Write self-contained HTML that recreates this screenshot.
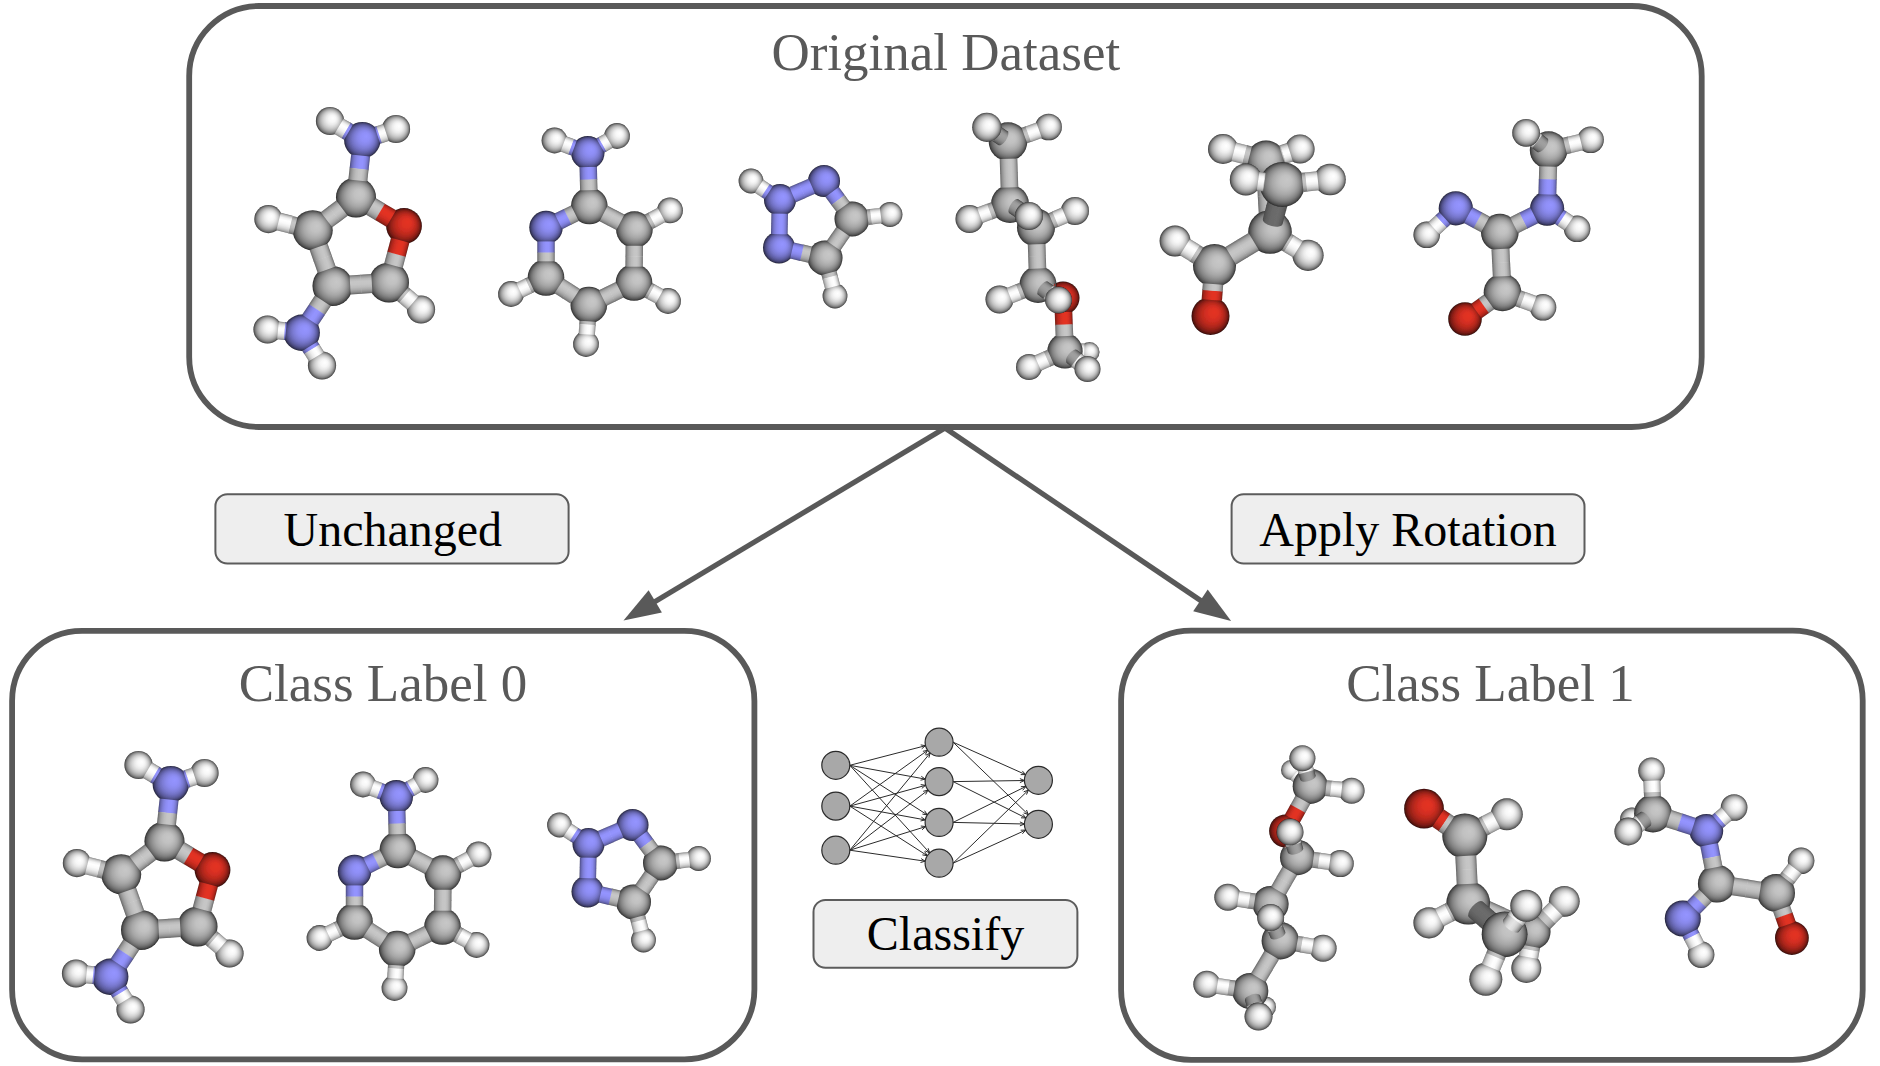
<!DOCTYPE html>
<html><head><meta charset="utf-8"><title>Rotation classification dataset</title>
<style>html,body{margin:0;padding:0;background:#fff;overflow:hidden}svg{display:block}text{font-family:"Liberation Serif","Times New Roman",serif}</style></head><body>
<svg width="1880" height="1066" viewBox="0 0 1880 1066">
<defs><radialGradient id="gH" cx="0.5" cy="0.5" r="0.5" fx="0.61" fy="0.39"><stop offset="0" stop-color="#ffffff"/><stop offset="0.25" stop-color="#f7f7f7"/><stop offset="0.4" stop-color="#eaeaea"/><stop offset="0.55" stop-color="#d5d5d5"/><stop offset="0.65" stop-color="#c3c3c3"/><stop offset="0.75" stop-color="#ababab"/><stop offset="0.82" stop-color="#969696"/><stop offset="0.88" stop-color="#7f7f7f"/><stop offset="0.93" stop-color="#676767"/><stop offset="0.965" stop-color="#515151"/><stop offset="0.985" stop-color="#3f3f3f"/><stop offset="1.0" stop-color="#212121"/></radialGradient>
<radialGradient id="gC" cx="0.5" cy="0.5" r="0.5" fx="0.61" fy="0.39"><stop offset="0" stop-color="#c7c7c7"/><stop offset="0.25" stop-color="#c1c1c1"/><stop offset="0.4" stop-color="#b6b6b6"/><stop offset="0.55" stop-color="#a7a7a7"/><stop offset="0.65" stop-color="#989898"/><stop offset="0.75" stop-color="#868686"/><stop offset="0.82" stop-color="#757575"/><stop offset="0.88" stop-color="#636363"/><stop offset="0.93" stop-color="#515151"/><stop offset="0.965" stop-color="#3f3f3f"/><stop offset="0.985" stop-color="#313131"/><stop offset="1.0" stop-color="#1a1a1a"/></radialGradient>
<radialGradient id="gN" cx="0.5" cy="0.5" r="0.5" fx="0.61" fy="0.39"><stop offset="0" stop-color="#9494ff"/><stop offset="0.25" stop-color="#8f8ff7"/><stop offset="0.4" stop-color="#8888ea"/><stop offset="0.55" stop-color="#7c7cd5"/><stop offset="0.65" stop-color="#7171c3"/><stop offset="0.75" stop-color="#6363ab"/><stop offset="0.82" stop-color="#575796"/><stop offset="0.88" stop-color="#4a4a7f"/><stop offset="0.93" stop-color="#3c3c67"/><stop offset="0.965" stop-color="#2f2f51"/><stop offset="0.985" stop-color="#24243f"/><stop offset="1.0" stop-color="#131321"/></radialGradient>
<radialGradient id="gO" cx="0.5" cy="0.5" r="0.5" fx="0.61" fy="0.39"><stop offset="0" stop-color="#e43224"/><stop offset="0.25" stop-color="#dd3023"/><stop offset="0.4" stop-color="#d12e21"/><stop offset="0.55" stop-color="#bf2a1e"/><stop offset="0.65" stop-color="#ae261c"/><stop offset="0.75" stop-color="#992218"/><stop offset="0.82" stop-color="#861d15"/><stop offset="0.88" stop-color="#721912"/><stop offset="0.93" stop-color="#5c140f"/><stop offset="0.965" stop-color="#48100b"/><stop offset="0.985" stop-color="#380c09"/><stop offset="1.0" stop-color="#1e0605"/></radialGradient>
<linearGradient id="bC_m1" x1="0" y1="0" x2="0" y2="1"><stop offset="0.000" stop-color="#545454"/><stop offset="0.020" stop-color="#707070"/><stop offset="0.060" stop-color="#878787"/><stop offset="0.125" stop-color="#9f9f9f"/><stop offset="0.225" stop-color="#b5b5b5"/><stop offset="0.350" stop-color="#c4c4c4"/><stop offset="0.500" stop-color="#c6c6c6"/><stop offset="0.650" stop-color="#bebebe"/><stop offset="0.775" stop-color="#aeaeae"/><stop offset="0.875" stop-color="#989898"/><stop offset="0.940" stop-color="#828282"/><stop offset="0.980" stop-color="#6d6d6d"/><stop offset="1.000" stop-color="#545454"/></linearGradient>
<linearGradient id="bC_m2" x1="0" y1="0" x2="0" y2="1"><stop offset="0.000" stop-color="#545454"/><stop offset="0.020" stop-color="#727272"/><stop offset="0.060" stop-color="#8b8b8b"/><stop offset="0.125" stop-color="#a3a3a3"/><stop offset="0.225" stop-color="#bababa"/><stop offset="0.350" stop-color="#c6c6c6"/><stop offset="0.500" stop-color="#c5c5c5"/><stop offset="0.650" stop-color="#bbbbbb"/><stop offset="0.775" stop-color="#aaaaaa"/><stop offset="0.875" stop-color="#959595"/><stop offset="0.940" stop-color="#808080"/><stop offset="0.980" stop-color="#6c6c6c"/><stop offset="1.000" stop-color="#545454"/></linearGradient>
<linearGradient id="bC_m3" x1="0" y1="0" x2="0" y2="1"><stop offset="0.000" stop-color="#545454"/><stop offset="0.020" stop-color="#747474"/><stop offset="0.060" stop-color="#8f8f8f"/><stop offset="0.125" stop-color="#a9a9a9"/><stop offset="0.225" stop-color="#bebebe"/><stop offset="0.350" stop-color="#c7c7c7"/><stop offset="0.500" stop-color="#c3c3c3"/><stop offset="0.650" stop-color="#b8b8b8"/><stop offset="0.775" stop-color="#a7a7a7"/><stop offset="0.875" stop-color="#929292"/><stop offset="0.940" stop-color="#7e7e7e"/><stop offset="0.980" stop-color="#6b6b6b"/><stop offset="1.000" stop-color="#545454"/></linearGradient>
<linearGradient id="bC_p0" x1="0" y1="0" x2="0" y2="1"><stop offset="0.000" stop-color="#545454"/><stop offset="0.020" stop-color="#6e6e6e"/><stop offset="0.060" stop-color="#858585"/><stop offset="0.125" stop-color="#9b9b9b"/><stop offset="0.225" stop-color="#b1b1b1"/><stop offset="0.350" stop-color="#c1c1c1"/><stop offset="0.500" stop-color="#c7c7c7"/><stop offset="0.650" stop-color="#c1c1c1"/><stop offset="0.775" stop-color="#b1b1b1"/><stop offset="0.875" stop-color="#9b9b9b"/><stop offset="0.940" stop-color="#858585"/><stop offset="0.980" stop-color="#6e6e6e"/><stop offset="1.000" stop-color="#545454"/></linearGradient>
<linearGradient id="bC_p1" x1="0" y1="0" x2="0" y2="1"><stop offset="0.000" stop-color="#545454"/><stop offset="0.020" stop-color="#6d6d6d"/><stop offset="0.060" stop-color="#828282"/><stop offset="0.125" stop-color="#989898"/><stop offset="0.225" stop-color="#aeaeae"/><stop offset="0.350" stop-color="#bebebe"/><stop offset="0.500" stop-color="#c6c6c6"/><stop offset="0.650" stop-color="#c4c4c4"/><stop offset="0.775" stop-color="#b5b5b5"/><stop offset="0.875" stop-color="#9f9f9f"/><stop offset="0.940" stop-color="#878787"/><stop offset="0.980" stop-color="#707070"/><stop offset="1.000" stop-color="#545454"/></linearGradient>
<linearGradient id="bC_p2" x1="0" y1="0" x2="0" y2="1"><stop offset="0.000" stop-color="#545454"/><stop offset="0.020" stop-color="#6c6c6c"/><stop offset="0.060" stop-color="#808080"/><stop offset="0.125" stop-color="#959595"/><stop offset="0.225" stop-color="#aaaaaa"/><stop offset="0.350" stop-color="#bbbbbb"/><stop offset="0.500" stop-color="#c5c5c5"/><stop offset="0.650" stop-color="#c6c6c6"/><stop offset="0.775" stop-color="#bababa"/><stop offset="0.875" stop-color="#a3a3a3"/><stop offset="0.940" stop-color="#8b8b8b"/><stop offset="0.980" stop-color="#727272"/><stop offset="1.000" stop-color="#545454"/></linearGradient>
<linearGradient id="bC_p3" x1="0" y1="0" x2="0" y2="1"><stop offset="0.000" stop-color="#545454"/><stop offset="0.020" stop-color="#6b6b6b"/><stop offset="0.060" stop-color="#7e7e7e"/><stop offset="0.125" stop-color="#929292"/><stop offset="0.225" stop-color="#a7a7a7"/><stop offset="0.350" stop-color="#b8b8b8"/><stop offset="0.500" stop-color="#c3c3c3"/><stop offset="0.650" stop-color="#c7c7c7"/><stop offset="0.775" stop-color="#bebebe"/><stop offset="0.875" stop-color="#a9a9a9"/><stop offset="0.940" stop-color="#8f8f8f"/><stop offset="0.980" stop-color="#747474"/><stop offset="1.000" stop-color="#545454"/></linearGradient>
<linearGradient id="bCd_m3" x1="0" y1="0" x2="0" y2="1"><stop offset="0.000" stop-color="#303030"/><stop offset="0.020" stop-color="#505050"/><stop offset="0.060" stop-color="#696969"/><stop offset="0.125" stop-color="#828282"/><stop offset="0.225" stop-color="#989898"/><stop offset="0.350" stop-color="#a0a0a0"/><stop offset="0.500" stop-color="#9d9d9d"/><stop offset="0.650" stop-color="#929292"/><stop offset="0.775" stop-color="#818181"/><stop offset="0.875" stop-color="#6d6d6d"/><stop offset="0.940" stop-color="#595959"/><stop offset="0.980" stop-color="#464646"/><stop offset="1.000" stop-color="#303030"/></linearGradient>
<linearGradient id="bCd_p0" x1="0" y1="0" x2="0" y2="1"><stop offset="0.000" stop-color="#303030"/><stop offset="0.020" stop-color="#4a4a4a"/><stop offset="0.060" stop-color="#606060"/><stop offset="0.125" stop-color="#767676"/><stop offset="0.225" stop-color="#8b8b8b"/><stop offset="0.350" stop-color="#9a9a9a"/><stop offset="0.500" stop-color="#a0a0a0"/><stop offset="0.650" stop-color="#9a9a9a"/><stop offset="0.775" stop-color="#8b8b8b"/><stop offset="0.875" stop-color="#767676"/><stop offset="0.940" stop-color="#606060"/><stop offset="0.980" stop-color="#4a4a4a"/><stop offset="1.000" stop-color="#303030"/></linearGradient>
<linearGradient id="bCd_p3" x1="0" y1="0" x2="0" y2="1"><stop offset="0.000" stop-color="#303030"/><stop offset="0.020" stop-color="#464646"/><stop offset="0.060" stop-color="#595959"/><stop offset="0.125" stop-color="#6d6d6d"/><stop offset="0.225" stop-color="#818181"/><stop offset="0.350" stop-color="#929292"/><stop offset="0.500" stop-color="#9d9d9d"/><stop offset="0.650" stop-color="#a0a0a0"/><stop offset="0.775" stop-color="#989898"/><stop offset="0.875" stop-color="#828282"/><stop offset="0.940" stop-color="#696969"/><stop offset="0.980" stop-color="#505050"/><stop offset="1.000" stop-color="#303030"/></linearGradient>
<linearGradient id="bCdd_m3" x1="0" y1="0" x2="0" y2="1"><stop offset="0.000" stop-color="#434343"/><stop offset="0.020" stop-color="#4f4f4f"/><stop offset="0.060" stop-color="#585858"/><stop offset="0.125" stop-color="#616161"/><stop offset="0.225" stop-color="#696969"/><stop offset="0.350" stop-color="#6c6c6c"/><stop offset="0.500" stop-color="#6b6b6b"/><stop offset="0.650" stop-color="#676767"/><stop offset="0.775" stop-color="#616161"/><stop offset="0.875" stop-color="#595959"/><stop offset="0.940" stop-color="#525252"/><stop offset="0.980" stop-color="#4b4b4b"/><stop offset="1.000" stop-color="#434343"/></linearGradient>
<linearGradient id="bCdd_p2" x1="0" y1="0" x2="0" y2="1"><stop offset="0.000" stop-color="#434343"/><stop offset="0.020" stop-color="#4c4c4c"/><stop offset="0.060" stop-color="#535353"/><stop offset="0.125" stop-color="#5a5a5a"/><stop offset="0.225" stop-color="#626262"/><stop offset="0.350" stop-color="#686868"/><stop offset="0.500" stop-color="#6b6b6b"/><stop offset="0.650" stop-color="#6c6c6c"/><stop offset="0.775" stop-color="#676767"/><stop offset="0.875" stop-color="#5f5f5f"/><stop offset="0.940" stop-color="#575757"/><stop offset="0.980" stop-color="#4e4e4e"/><stop offset="1.000" stop-color="#434343"/></linearGradient>
<linearGradient id="bCl_p0" x1="0" y1="0" x2="0" y2="1"><stop offset="0.000" stop-color="#393939"/><stop offset="0.020" stop-color="#616161"/><stop offset="0.060" stop-color="#828282"/><stop offset="0.125" stop-color="#a3a3a3"/><stop offset="0.225" stop-color="#c4c4c4"/><stop offset="0.350" stop-color="#dbdbdb"/><stop offset="0.500" stop-color="#e4e4e4"/><stop offset="0.650" stop-color="#dbdbdb"/><stop offset="0.775" stop-color="#c4c4c4"/><stop offset="0.875" stop-color="#a3a3a3"/><stop offset="0.940" stop-color="#828282"/><stop offset="0.980" stop-color="#616161"/><stop offset="1.000" stop-color="#393939"/></linearGradient>
<linearGradient id="bH_m1" x1="0" y1="0" x2="0" y2="1"><stop offset="0.000" stop-color="#6b6b6b"/><stop offset="0.020" stop-color="#8f8f8f"/><stop offset="0.060" stop-color="#aeaeae"/><stop offset="0.125" stop-color="#cccccc"/><stop offset="0.225" stop-color="#e8e8e8"/><stop offset="0.350" stop-color="#fbfbfb"/><stop offset="0.500" stop-color="#fefefe"/><stop offset="0.650" stop-color="#f3f3f3"/><stop offset="0.775" stop-color="#dfdfdf"/><stop offset="0.875" stop-color="#c3c3c3"/><stop offset="0.940" stop-color="#a7a7a7"/><stop offset="0.980" stop-color="#8c8c8c"/><stop offset="1.000" stop-color="#6b6b6b"/></linearGradient>
<linearGradient id="bH_m2" x1="0" y1="0" x2="0" y2="1"><stop offset="0.000" stop-color="#6b6b6b"/><stop offset="0.020" stop-color="#929292"/><stop offset="0.060" stop-color="#b2b2b2"/><stop offset="0.125" stop-color="#d1d1d1"/><stop offset="0.225" stop-color="#eeeeee"/><stop offset="0.350" stop-color="#fefefe"/><stop offset="0.500" stop-color="#fdfdfd"/><stop offset="0.650" stop-color="#f0f0f0"/><stop offset="0.775" stop-color="#dadada"/><stop offset="0.875" stop-color="#bfbfbf"/><stop offset="0.940" stop-color="#a4a4a4"/><stop offset="0.980" stop-color="#8a8a8a"/><stop offset="1.000" stop-color="#6b6b6b"/></linearGradient>
<linearGradient id="bH_m3" x1="0" y1="0" x2="0" y2="1"><stop offset="0.000" stop-color="#6b6b6b"/><stop offset="0.020" stop-color="#959595"/><stop offset="0.060" stop-color="#b7b7b7"/><stop offset="0.125" stop-color="#d8d8d8"/><stop offset="0.225" stop-color="#f4f4f4"/><stop offset="0.350" stop-color="#ffffff"/><stop offset="0.500" stop-color="#fafafa"/><stop offset="0.650" stop-color="#ececec"/><stop offset="0.775" stop-color="#d6d6d6"/><stop offset="0.875" stop-color="#bcbcbc"/><stop offset="0.940" stop-color="#a2a2a2"/><stop offset="0.980" stop-color="#898989"/><stop offset="1.000" stop-color="#6b6b6b"/></linearGradient>
<linearGradient id="bH_p0" x1="0" y1="0" x2="0" y2="1"><stop offset="0.000" stop-color="#6b6b6b"/><stop offset="0.020" stop-color="#8d8d8d"/><stop offset="0.060" stop-color="#aaaaaa"/><stop offset="0.125" stop-color="#c7c7c7"/><stop offset="0.225" stop-color="#e3e3e3"/><stop offset="0.350" stop-color="#f7f7f7"/><stop offset="0.500" stop-color="#ffffff"/><stop offset="0.650" stop-color="#f7f7f7"/><stop offset="0.775" stop-color="#e3e3e3"/><stop offset="0.875" stop-color="#c7c7c7"/><stop offset="0.940" stop-color="#aaaaaa"/><stop offset="0.980" stop-color="#8d8d8d"/><stop offset="1.000" stop-color="#6b6b6b"/></linearGradient>
<linearGradient id="bH_p1" x1="0" y1="0" x2="0" y2="1"><stop offset="0.000" stop-color="#6b6b6b"/><stop offset="0.020" stop-color="#8c8c8c"/><stop offset="0.060" stop-color="#a7a7a7"/><stop offset="0.125" stop-color="#c3c3c3"/><stop offset="0.225" stop-color="#dfdfdf"/><stop offset="0.350" stop-color="#f3f3f3"/><stop offset="0.500" stop-color="#fefefe"/><stop offset="0.650" stop-color="#fbfbfb"/><stop offset="0.775" stop-color="#e8e8e8"/><stop offset="0.875" stop-color="#cccccc"/><stop offset="0.940" stop-color="#aeaeae"/><stop offset="0.980" stop-color="#8f8f8f"/><stop offset="1.000" stop-color="#6b6b6b"/></linearGradient>
<linearGradient id="bH_p2" x1="0" y1="0" x2="0" y2="1"><stop offset="0.000" stop-color="#6b6b6b"/><stop offset="0.020" stop-color="#8a8a8a"/><stop offset="0.060" stop-color="#a4a4a4"/><stop offset="0.125" stop-color="#bfbfbf"/><stop offset="0.225" stop-color="#dadada"/><stop offset="0.350" stop-color="#f0f0f0"/><stop offset="0.500" stop-color="#fdfdfd"/><stop offset="0.650" stop-color="#fefefe"/><stop offset="0.775" stop-color="#eeeeee"/><stop offset="0.875" stop-color="#d1d1d1"/><stop offset="0.940" stop-color="#b2b2b2"/><stop offset="0.980" stop-color="#929292"/><stop offset="1.000" stop-color="#6b6b6b"/></linearGradient>
<linearGradient id="bH_p3" x1="0" y1="0" x2="0" y2="1"><stop offset="0.000" stop-color="#6b6b6b"/><stop offset="0.020" stop-color="#898989"/><stop offset="0.060" stop-color="#a2a2a2"/><stop offset="0.125" stop-color="#bcbcbc"/><stop offset="0.225" stop-color="#d6d6d6"/><stop offset="0.350" stop-color="#ececec"/><stop offset="0.500" stop-color="#fafafa"/><stop offset="0.650" stop-color="#ffffff"/><stop offset="0.775" stop-color="#f4f4f4"/><stop offset="0.875" stop-color="#d8d8d8"/><stop offset="0.940" stop-color="#b7b7b7"/><stop offset="0.980" stop-color="#959595"/><stop offset="1.000" stop-color="#6b6b6b"/></linearGradient>
<linearGradient id="bN_m1" x1="0" y1="0" x2="0" y2="1"><stop offset="0.000" stop-color="#3e3e6b"/><stop offset="0.020" stop-color="#53538f"/><stop offset="0.060" stop-color="#6565ae"/><stop offset="0.125" stop-color="#7676cc"/><stop offset="0.225" stop-color="#8787e8"/><stop offset="0.350" stop-color="#9292fb"/><stop offset="0.500" stop-color="#9494fe"/><stop offset="0.650" stop-color="#8d8df3"/><stop offset="0.775" stop-color="#8181df"/><stop offset="0.875" stop-color="#7171c3"/><stop offset="0.940" stop-color="#6161a7"/><stop offset="0.980" stop-color="#51518c"/><stop offset="1.000" stop-color="#3e3e6b"/></linearGradient>
<linearGradient id="bN_m2" x1="0" y1="0" x2="0" y2="1"><stop offset="0.000" stop-color="#3e3e6b"/><stop offset="0.020" stop-color="#555592"/><stop offset="0.060" stop-color="#6767b2"/><stop offset="0.125" stop-color="#7a7ad1"/><stop offset="0.225" stop-color="#8a8aee"/><stop offset="0.350" stop-color="#9393fe"/><stop offset="0.500" stop-color="#9393fd"/><stop offset="0.650" stop-color="#8b8bf0"/><stop offset="0.775" stop-color="#7f7fda"/><stop offset="0.875" stop-color="#6f6fbf"/><stop offset="0.940" stop-color="#5f5fa4"/><stop offset="0.980" stop-color="#50508a"/><stop offset="1.000" stop-color="#3e3e6b"/></linearGradient>
<linearGradient id="bN_m3" x1="0" y1="0" x2="0" y2="1"><stop offset="0.000" stop-color="#3e3e6b"/><stop offset="0.020" stop-color="#565695"/><stop offset="0.060" stop-color="#6a6ab7"/><stop offset="0.125" stop-color="#7d7dd8"/><stop offset="0.225" stop-color="#8e8ef4"/><stop offset="0.350" stop-color="#9494ff"/><stop offset="0.500" stop-color="#9191fa"/><stop offset="0.650" stop-color="#8989ec"/><stop offset="0.775" stop-color="#7c7cd6"/><stop offset="0.875" stop-color="#6d6dbc"/><stop offset="0.940" stop-color="#5e5ea2"/><stop offset="0.980" stop-color="#4f4f89"/><stop offset="1.000" stop-color="#3e3e6b"/></linearGradient>
<linearGradient id="bN_p0" x1="0" y1="0" x2="0" y2="1"><stop offset="0.000" stop-color="#3e3e6b"/><stop offset="0.020" stop-color="#52528d"/><stop offset="0.060" stop-color="#6363aa"/><stop offset="0.125" stop-color="#7474c7"/><stop offset="0.225" stop-color="#8484e3"/><stop offset="0.350" stop-color="#8f8ff7"/><stop offset="0.500" stop-color="#9494ff"/><stop offset="0.650" stop-color="#8f8ff7"/><stop offset="0.775" stop-color="#8484e3"/><stop offset="0.875" stop-color="#7474c7"/><stop offset="0.940" stop-color="#6363aa"/><stop offset="0.980" stop-color="#52528d"/><stop offset="1.000" stop-color="#3e3e6b"/></linearGradient>
<linearGradient id="bN_p1" x1="0" y1="0" x2="0" y2="1"><stop offset="0.000" stop-color="#3e3e6b"/><stop offset="0.020" stop-color="#51518c"/><stop offset="0.060" stop-color="#6161a7"/><stop offset="0.125" stop-color="#7171c3"/><stop offset="0.225" stop-color="#8181df"/><stop offset="0.350" stop-color="#8d8df3"/><stop offset="0.500" stop-color="#9494fe"/><stop offset="0.650" stop-color="#9292fb"/><stop offset="0.775" stop-color="#8787e8"/><stop offset="0.875" stop-color="#7676cc"/><stop offset="0.940" stop-color="#6565ae"/><stop offset="0.980" stop-color="#53538f"/><stop offset="1.000" stop-color="#3e3e6b"/></linearGradient>
<linearGradient id="bN_p2" x1="0" y1="0" x2="0" y2="1"><stop offset="0.000" stop-color="#3e3e6b"/><stop offset="0.020" stop-color="#50508a"/><stop offset="0.060" stop-color="#5f5fa4"/><stop offset="0.125" stop-color="#6f6fbf"/><stop offset="0.225" stop-color="#7f7fda"/><stop offset="0.350" stop-color="#8b8bf0"/><stop offset="0.500" stop-color="#9393fd"/><stop offset="0.650" stop-color="#9393fe"/><stop offset="0.775" stop-color="#8a8aee"/><stop offset="0.875" stop-color="#7a7ad1"/><stop offset="0.940" stop-color="#6767b2"/><stop offset="0.980" stop-color="#555592"/><stop offset="1.000" stop-color="#3e3e6b"/></linearGradient>
<linearGradient id="bN_p3" x1="0" y1="0" x2="0" y2="1"><stop offset="0.000" stop-color="#3e3e6b"/><stop offset="0.020" stop-color="#4f4f89"/><stop offset="0.060" stop-color="#5e5ea2"/><stop offset="0.125" stop-color="#6d6dbc"/><stop offset="0.225" stop-color="#7c7cd6"/><stop offset="0.350" stop-color="#8989ec"/><stop offset="0.500" stop-color="#9191fa"/><stop offset="0.650" stop-color="#9494ff"/><stop offset="0.775" stop-color="#8e8ef4"/><stop offset="0.875" stop-color="#7d7dd8"/><stop offset="0.940" stop-color="#6a6ab7"/><stop offset="0.980" stop-color="#565695"/><stop offset="1.000" stop-color="#3e3e6b"/></linearGradient>
<linearGradient id="bO_m1" x1="0" y1="0" x2="0" y2="1"><stop offset="0.000" stop-color="#60150f"/><stop offset="0.020" stop-color="#801c14"/><stop offset="0.060" stop-color="#9b2219"/><stop offset="0.125" stop-color="#b6281d"/><stop offset="0.225" stop-color="#d02e21"/><stop offset="0.350" stop-color="#e03123"/><stop offset="0.500" stop-color="#e33224"/><stop offset="0.650" stop-color="#da3022"/><stop offset="0.775" stop-color="#c72c1f"/><stop offset="0.875" stop-color="#ae261b"/><stop offset="0.940" stop-color="#952118"/><stop offset="0.980" stop-color="#7d1b14"/><stop offset="1.000" stop-color="#60150f"/></linearGradient>
<linearGradient id="bO_m2" x1="0" y1="0" x2="0" y2="1"><stop offset="0.000" stop-color="#60150f"/><stop offset="0.020" stop-color="#821d15"/><stop offset="0.060" stop-color="#9f2319"/><stop offset="0.125" stop-color="#bb291e"/><stop offset="0.225" stop-color="#d52f22"/><stop offset="0.350" stop-color="#e33224"/><stop offset="0.500" stop-color="#e23224"/><stop offset="0.650" stop-color="#d62f22"/><stop offset="0.775" stop-color="#c32b1f"/><stop offset="0.875" stop-color="#ab251b"/><stop offset="0.940" stop-color="#932017"/><stop offset="0.980" stop-color="#7b1b13"/><stop offset="1.000" stop-color="#60150f"/></linearGradient>
<linearGradient id="bO_m3" x1="0" y1="0" x2="0" y2="1"><stop offset="0.000" stop-color="#60150f"/><stop offset="0.020" stop-color="#851d15"/><stop offset="0.060" stop-color="#a4241a"/><stop offset="0.125" stop-color="#c12a1e"/><stop offset="0.225" stop-color="#da3022"/><stop offset="0.350" stop-color="#e43224"/><stop offset="0.500" stop-color="#e03123"/><stop offset="0.650" stop-color="#d32e21"/><stop offset="0.775" stop-color="#c02a1e"/><stop offset="0.875" stop-color="#a8251a"/><stop offset="0.940" stop-color="#902017"/><stop offset="0.980" stop-color="#7a1b13"/><stop offset="1.000" stop-color="#60150f"/></linearGradient>
<linearGradient id="bO_p1" x1="0" y1="0" x2="0" y2="1"><stop offset="0.000" stop-color="#60150f"/><stop offset="0.020" stop-color="#7d1b14"/><stop offset="0.060" stop-color="#952118"/><stop offset="0.125" stop-color="#ae261b"/><stop offset="0.225" stop-color="#c72c1f"/><stop offset="0.350" stop-color="#da3022"/><stop offset="0.500" stop-color="#e33224"/><stop offset="0.650" stop-color="#e03123"/><stop offset="0.775" stop-color="#d02e21"/><stop offset="0.875" stop-color="#b6281d"/><stop offset="0.940" stop-color="#9b2219"/><stop offset="0.980" stop-color="#801c14"/><stop offset="1.000" stop-color="#60150f"/></linearGradient>
<linearGradient id="bO_p2" x1="0" y1="0" x2="0" y2="1"><stop offset="0.000" stop-color="#60150f"/><stop offset="0.020" stop-color="#7b1b13"/><stop offset="0.060" stop-color="#932017"/><stop offset="0.125" stop-color="#ab251b"/><stop offset="0.225" stop-color="#c32b1f"/><stop offset="0.350" stop-color="#d62f22"/><stop offset="0.500" stop-color="#e23224"/><stop offset="0.650" stop-color="#e33224"/><stop offset="0.775" stop-color="#d52f22"/><stop offset="0.875" stop-color="#bb291e"/><stop offset="0.940" stop-color="#9f2319"/><stop offset="0.980" stop-color="#821d15"/><stop offset="1.000" stop-color="#60150f"/></linearGradient><filter id="sf" x="-5%" y="-5%" width="110%" height="110%"><feGaussianBlur stdDeviation="0.7"/></filter></defs>
<rect width="1880" height="1066" fill="#fff"/>
<rect x="189.2" y="6" width="1512.5" height="421" rx="70" ry="70" fill="none" stroke="#595959" stroke-width="5.8"/>
<rect x="12.1" y="630.9" width="742.3" height="428.5" rx="70" ry="70" fill="none" stroke="#595959" stroke-width="5.8"/>
<rect x="1121.1" y="630.6" width="741.6" height="429.3" rx="70" ry="70" fill="none" stroke="#595959" stroke-width="5.8"/>
<line x1="945" y1="428" x2="653.5" y2="602.4" stroke="#595959" stroke-width="5.2"/><polygon points="623.5,620.4 648.6,590.2 661.9,612.6" fill="#595959"/>
<line x1="945" y1="428" x2="1202.1" y2="601.5" stroke="#595959" stroke-width="5.2"/><polygon points="1231.1,621.1 1193.2,611.2 1207.7,589.6" fill="#595959"/>
<g fill="#595959" font-size="53px" text-anchor="middle">
<text x="945.8" y="70">Original Dataset</text>
<text x="383" y="700.6">Class Label 0</text>
<text x="1490.5" y="700.8">Class Label 1</text>
</g>
<rect x="215.4" y="494.3" width="353.2" height="69.2" rx="12" ry="12" fill="#eeeeee" stroke="#5c5c5c" stroke-width="2"/><text x="392.8" y="546" font-size="48px" text-anchor="middle" fill="#000">Unchanged</text>
<rect x="1231.6" y="494.3" width="352.9" height="69.2" rx="12" ry="12" fill="#eeeeee" stroke="#5c5c5c" stroke-width="2"/><text x="1408" y="546" font-size="48px" text-anchor="middle" fill="#000">Apply Rotation</text>
<rect x="813.5" y="899.9" width="263.9" height="67.9" rx="12" ry="12" fill="#eeeeee" stroke="#5c5c5c" stroke-width="2"/><text x="945.5" y="949.7" font-size="48px" text-anchor="middle" fill="#000">Classify</text>
<g stroke="#2a2a2a" stroke-width="1" fill="none">
<path d="M849.8 765.3L925.5 745.7M921.7 748.8L925.5 745.7L920.7 744.9"/>
<path d="M849.8 765.3L925.3 779.1M920.5 780.2L925.3 779.1L921.3 776.3"/>
<path d="M849.8 765.3L927.3 814.9M922.4 814.1L927.3 814.9L924.6 810.7"/>
<path d="M849.8 765.3L929.7 852.9M925.2 850.9L929.7 852.9L928.1 848.2"/>
<path d="M849.8 806.1L927.7 750.3M925.2 754.6L927.7 750.3L922.9 751.3"/>
<path d="M849.8 806.1L925.6 785.3M921.8 788.4L925.6 785.3L920.7 784.6"/>
<path d="M849.8 806.1L925.3 819.9M920.5 821L925.3 819.9L921.3 817.1"/>
<path d="M849.8 806.1L927.3 855.7M922.4 854.9L927.3 855.7L924.6 851.5"/>
<path d="M849.8 850.2L930.2 753M928.9 757.7L930.2 753L925.8 755.2"/>
<path d="M849.8 850.2L928 790.1M925.6 794.5L928 790.1L923.2 791.3"/>
<path d="M849.8 850.2L925.7 826.6M922 829.8L925.7 826.6L920.8 826"/>
<path d="M849.8 850.2L925.2 861.2M920.5 862.5L925.2 861.2L921.1 858.6"/>
<path d="M953.1 742.2L1025.6 774.6M1020.7 774.6L1025.6 774.6L1022.3 770.9"/>
<path d="M953.1 742.2L1028.3 814.6M1023.7 812.9L1028.3 814.6L1026.5 810"/>
<path d="M953.1 781.6L1024.4 780.5M1019.9 782.6L1024.4 780.5L1019.9 778.6"/>
<path d="M953.1 781.6L1025.9 818M1021 817.8L1025.9 818L1022.8 814.2"/>
<path d="M953.1 822.4L1025.8 786.5M1022.7 790.3L1025.8 786.5L1020.9 786.7"/>
<path d="M953.1 822.4L1024.4 824M1019.9 825.9L1024.4 824L1019.9 821.9"/>
<path d="M953.1 863.2L1028.4 790.1M1026.5 794.6L1028.4 790.1L1023.7 791.8"/>
<path d="M953.1 863.2L1025.7 830.1M1022.4 833.8L1025.7 830.1L1020.7 830.2"/>
</g><g fill="#a8a8a8" stroke="#2a2a2a" stroke-width="1.2">
<circle cx="835.8" cy="765.3" r="14"/>
<circle cx="835.8" cy="806.1" r="14"/>
<circle cx="835.8" cy="850.2" r="14"/>
<circle cx="939.1" cy="742.2" r="14"/>
<circle cx="939.1" cy="781.6" r="14"/>
<circle cx="939.1" cy="822.4" r="14"/>
<circle cx="939.1" cy="863.2" r="14"/>
<circle cx="1038.4" cy="780.3" r="14"/>
<circle cx="1038.4" cy="824.3" r="14"/>
</g>
<g filter="url(#sf)">
<g><circle cx="362.3" cy="140.1" r="18.2" fill="url(#gN)"/>
<circle cx="330" cy="121" r="14.1" fill="url(#gH)"/>
<circle cx="396" cy="129" r="14.1" fill="url(#gH)"/>
<circle cx="356" cy="197.5" r="20" fill="url(#gC)"/>
<circle cx="404" cy="226" r="17.9" fill="url(#gO)"/>
<circle cx="312.7" cy="230.2" r="20" fill="url(#gC)"/>
<circle cx="268.4" cy="219.1" r="14.1" fill="url(#gH)"/>
<circle cx="332.5" cy="286" r="20" fill="url(#gC)"/>
<circle cx="389" cy="282.5" r="20" fill="url(#gC)"/>
<circle cx="421" cy="309.5" r="14.1" fill="url(#gH)"/>
<circle cx="301.7" cy="332.7" r="18.2" fill="url(#gN)"/>
<circle cx="267.5" cy="329.5" r="14.1" fill="url(#gH)"/>
<circle cx="322" cy="365.5" r="14.1" fill="url(#gH)"/>
<rect x="0" y="-8.9" width="3.3" height="17.9" fill="url(#bN_p3)" transform="translate(348.6 132) rotate(-149.4)"/><rect x="0" y="-8.9" width="8.3" height="17.9" fill="url(#bH_p3)" transform="translate(346.1 130.6) rotate(-149.4)"/>
<rect x="0" y="-8.9" width="2.3" height="17.9" fill="url(#bN_m1)" transform="translate(377.4 135.1) rotate(-18.2)"/><rect x="0" y="-8.9" width="7.2" height="17.9" fill="url(#bH_m1)" transform="translate(379.1 134.6) rotate(-18.2)"/>
<rect x="0" y="-9.5" width="13.7" height="19" fill="url(#bN_m2)" transform="translate(360.6 155.5) rotate(96.3)"/><rect x="0" y="-9.5" width="11.7" height="19" fill="url(#bC_m2)" transform="translate(359.1 168.8) rotate(96.3)"/>
<rect x="0" y="-9.5" width="10.7" height="19" fill="url(#bC_m3)" transform="translate(371.1 206.5) rotate(30.7)"/><rect x="0" y="-9.5" width="13.1" height="19" fill="url(#bO_m3)" transform="translate(380 211.8) rotate(30.7)"/>
<rect x="0" y="-9.5" width="9.9" height="19" fill="url(#bC_p0)" transform="translate(342 208.1) rotate(142.9)"/><rect x="0" y="-9.5" width="9.9" height="19" fill="url(#bC_p0)" transform="translate(334.4 213.8) rotate(142.9)"/>
<rect x="0" y="-8.9" width="5.3" height="17.9" fill="url(#bC_p3)" transform="translate(295.3 225.9) rotate(-165.9)"/><rect x="0" y="-8.9" width="12.3" height="17.9" fill="url(#bH_p3)" transform="translate(290.5 224.6) rotate(-165.9)"/>
<rect x="0" y="-9.5" width="12.4" height="19" fill="url(#bC_m3)" transform="translate(318.6 246.8) rotate(70.5)"/><rect x="0" y="-9.5" width="12.4" height="19" fill="url(#bC_m3)" transform="translate(322.6 258.1) rotate(70.5)"/>
<rect x="0" y="-9.5" width="11.1" height="19" fill="url(#bC_m2)" transform="translate(350.1 284.9) rotate(-3.5)"/><rect x="0" y="-9.5" width="11.1" height="19" fill="url(#bC_m2)" transform="translate(360.8 284.2) rotate(-3.5)"/>
<rect x="0" y="-9.5" width="12" height="19" fill="url(#bC_p2)" transform="translate(393.5 265.5) rotate(-75.1)"/><rect x="0" y="-9.5" width="14.5" height="19" fill="url(#bO_p2)" transform="translate(396.5 254.2) rotate(-75.1)"/>
<rect x="0" y="-8.9" width="3.4" height="17.9" fill="url(#bC_m3)" transform="translate(402.7 294) rotate(40.2)"/><rect x="0" y="-8.9" width="10.4" height="17.9" fill="url(#bH_m3)" transform="translate(405 296) rotate(40.2)"/>
<rect x="0" y="-9.5" width="10.8" height="19" fill="url(#bC_m1)" transform="translate(322.8 300.7) rotate(123.4)"/><rect x="0" y="-9.5" width="12.8" height="19" fill="url(#bN_m1)" transform="translate(317.1 309.4) rotate(123.4)"/>
<rect x="0" y="-8.9" width="1.7" height="17.9" fill="url(#bN_p2)" transform="translate(285.9 331.2) rotate(-174.7)"/><rect x="0" y="-8.9" width="6.7" height="17.9" fill="url(#bH_p2)" transform="translate(284.6 331.1) rotate(-174.7)"/>
<rect x="0" y="-8.9" width="3.8" height="17.9" fill="url(#bN_m3)" transform="translate(310 346.2) rotate(58.2)"/><rect x="0" y="-8.9" width="8.8" height="17.9" fill="url(#bH_m3)" transform="translate(311.9 349.1) rotate(58.2)"/></g>
<g><circle cx="587.8" cy="152.8" r="16.7" fill="url(#gN)"/>
<circle cx="554.5" cy="140.5" r="12.9" fill="url(#gH)"/>
<circle cx="617" cy="136" r="12.9" fill="url(#gH)"/>
<circle cx="589.3" cy="206" r="18.3" fill="url(#gC)"/>
<circle cx="546" cy="227.5" r="16.7" fill="url(#gN)"/>
<circle cx="634.4" cy="229.6" r="18.3" fill="url(#gC)"/>
<circle cx="670" cy="210.4" r="12.9" fill="url(#gH)"/>
<circle cx="634" cy="282.5" r="18.3" fill="url(#gC)"/>
<circle cx="668" cy="301" r="12.9" fill="url(#gH)"/>
<circle cx="588.8" cy="305" r="18.3" fill="url(#gC)"/>
<circle cx="586" cy="344" r="12.9" fill="url(#gH)"/>
<circle cx="546" cy="277.5" r="18.3" fill="url(#gC)"/>
<circle cx="511" cy="294" r="12.9" fill="url(#gH)"/>
<rect x="0" y="-8.2" width="3.6" height="16.3" fill="url(#bN_p3)" transform="translate(574.1 147.8) rotate(-159.7)"/><rect x="0" y="-8.2" width="8.2" height="16.3" fill="url(#bH_p3)" transform="translate(571.1 146.7) rotate(-159.7)"/>
<rect x="0" y="-8.2" width="2.7" height="16.3" fill="url(#bN_m1)" transform="translate(600.4 145.5) rotate(-29.9)"/><rect x="0" y="-8.2" width="7.3" height="16.3" fill="url(#bH_m1)" transform="translate(602.4 144.4) rotate(-29.9)"/>
<rect x="0" y="-8.7" width="12.8" height="17.4" fill="url(#bN_m2)" transform="translate(588.2 167.1) rotate(88.4)"/><rect x="0" y="-8.7" width="10.9" height="17.4" fill="url(#bC_m2)" transform="translate(588.5 179.4) rotate(88.4)"/>
<rect x="0" y="-8.7" width="8.5" height="17.4" fill="url(#bC_p1)" transform="translate(574.9 213.2) rotate(153.6)"/><rect x="0" y="-8.7" width="10.3" height="17.4" fill="url(#bN_p1)" transform="translate(567.6 216.8) rotate(153.6)"/>
<rect x="0" y="-8.7" width="9.7" height="17.4" fill="url(#bC_m3)" transform="translate(603.6 213.5) rotate(27.6)"/><rect x="0" y="-8.7" width="9.7" height="17.4" fill="url(#bC_m3)" transform="translate(611.8 217.8) rotate(27.6)"/>
<rect x="0" y="-8.2" width="4.2" height="16.3" fill="url(#bC_m1)" transform="translate(648.8 221.8) rotate(-28.3)"/><rect x="0" y="-8.2" width="10.6" height="16.3" fill="url(#bH_m1)" transform="translate(652.2 220) rotate(-28.3)"/>
<rect x="0" y="-8.7" width="10.7" height="17.4" fill="url(#bC_m2)" transform="translate(634.3 245.7) rotate(90.4)"/><rect x="0" y="-8.7" width="10.7" height="17.4" fill="url(#bC_m2)" transform="translate(634.2 256.1) rotate(90.4)"/>
<rect x="0" y="-8.2" width="3.4" height="16.3" fill="url(#bC_m3)" transform="translate(648.4 290.3) rotate(28.6)"/><rect x="0" y="-8.2" width="9.8" height="16.3" fill="url(#bH_m3)" transform="translate(651 291.8) rotate(28.6)"/>
<rect x="0" y="-8.7" width="9.6" height="17.4" fill="url(#bC_p1)" transform="translate(619.6 289.7) rotate(153.6)"/><rect x="0" y="-8.7" width="9.6" height="17.4" fill="url(#bC_p1)" transform="translate(611.4 293.8) rotate(153.6)"/>
<rect x="0" y="-8.2" width="3.6" height="16.3" fill="url(#bC_m2)" transform="translate(587.6 321.3) rotate(94)"/><rect x="0" y="-8.2" width="10" height="16.3" fill="url(#bH_m2)" transform="translate(587.4 324.5) rotate(94)"/>
<rect x="0" y="-8.7" width="9.7" height="17.4" fill="url(#bC_p3)" transform="translate(575.2 296.3) rotate(-147.2)"/><rect x="0" y="-8.7" width="9.7" height="17.4" fill="url(#bC_p3)" transform="translate(567.4 291.2) rotate(-147.2)"/>
<rect x="0" y="-8.2" width="3.4" height="16.3" fill="url(#bC_p1)" transform="translate(531.2 284.5) rotate(154.8)"/><rect x="0" y="-8.2" width="9.8" height="16.3" fill="url(#bH_p1)" transform="translate(528.5 285.8) rotate(154.8)"/>
<rect x="0" y="-8.7" width="9.3" height="17.4" fill="url(#bC_p2)" transform="translate(546 261.4) rotate(-90)"/><rect x="0" y="-8.7" width="11.1" height="17.4" fill="url(#bN_p2)" transform="translate(546 252.5) rotate(-90)"/></g>
<g><circle cx="751" cy="181" r="12.4" fill="url(#gH)"/>
<circle cx="780" cy="200" r="16" fill="url(#gN)"/>
<circle cx="824" cy="181" r="16" fill="url(#gN)"/>
<circle cx="779" cy="247.5" r="16" fill="url(#gN)"/>
<circle cx="852" cy="219" r="17.5" fill="url(#gC)"/>
<circle cx="890" cy="214.5" r="12.4" fill="url(#gH)"/>
<circle cx="825" cy="258" r="17.5" fill="url(#gC)"/>
<circle cx="835" cy="296" r="12.4" fill="url(#gH)"/>
<rect x="0" y="-7.8" width="8.1" height="15.6" fill="url(#bH_m3)" transform="translate(759.1 186.3) rotate(33.2)"/><rect x="0" y="-7.8" width="3.8" height="15.6" fill="url(#bN_m3)" transform="translate(765.5 190.5) rotate(33.2)"/>
<rect x="0" y="-8.3" width="10.7" height="16.6" fill="url(#bN_m1)" transform="translate(792.6 194.6) rotate(-23.4)"/><rect x="0" y="-8.3" width="10.7" height="16.6" fill="url(#bN_m1)" transform="translate(802 190.5) rotate(-23.4)"/>
<rect x="0" y="-8.3" width="10.5" height="16.6" fill="url(#bN_m2)" transform="translate(779.7 213.7) rotate(91.2)"/><rect x="0" y="-8.3" width="10.5" height="16.6" fill="url(#bN_m2)" transform="translate(779.5 223.8) rotate(91.2)"/>
<rect x="0" y="-8.3" width="10.3" height="16.6" fill="url(#bN_m3)" transform="translate(832.1 192) rotate(53.6)"/><rect x="0" y="-8.3" width="8.6" height="16.6" fill="url(#bC_m3)" transform="translate(838 200) rotate(53.6)"/>
<rect x="0" y="-7.8" width="3.9" height="15.6" fill="url(#bC_m2)" transform="translate(867.6 217.2) rotate(-6.8)"/><rect x="0" y="-7.8" width="9.9" height="15.6" fill="url(#bH_m2)" transform="translate(871 216.8) rotate(-6.8)"/>
<rect x="0" y="-8.3" width="8.7" height="16.6" fill="url(#bC_m1)" transform="translate(843.2 231.7) rotate(124.7)"/><rect x="0" y="-8.3" width="8.7" height="16.6" fill="url(#bC_m1)" transform="translate(838.5 238.5) rotate(124.7)"/>
<rect x="0" y="-8.3" width="8.6" height="16.6" fill="url(#bC_p3)" transform="translate(810 254.6) rotate(-167.1)"/><rect x="0" y="-8.3" width="10.3" height="16.6" fill="url(#bN_p3)" transform="translate(802 252.8) rotate(-167.1)"/>
<rect x="0" y="-7.8" width="4.4" height="15.6" fill="url(#bC_m3)" transform="translate(829 273.1) rotate(75.3)"/><rect x="0" y="-7.8" width="10.4" height="15.6" fill="url(#bH_m3)" transform="translate(830 277) rotate(75.3)"/></g>
<g><circle cx="1089.5" cy="352" r="10" fill="url(#gH)"/>
<rect x="0" y="-8.3" width="12.7" height="16.5" fill="url(#bC_m2)" transform="translate(1065 351) rotate(2.3)"/><rect x="0" y="-8.3" width="7" height="16.5" fill="url(#bH_m2)" transform="translate(1077.2 351.5) rotate(2.3)"/>
<circle cx="1063" cy="298" r="16.5" fill="url(#gO)"/>
<circle cx="1048.6" cy="127" r="13.3" fill="url(#gH)"/>
<circle cx="1008" cy="141.5" r="19.3" fill="url(#gC)"/>
<circle cx="1010" cy="204" r="19" fill="url(#gC)"/>
<circle cx="969.5" cy="219" r="14" fill="url(#gH)"/>
<circle cx="1075" cy="211" r="14" fill="url(#gH)"/>
<circle cx="1038" cy="284.5" r="18.5" fill="url(#gC)"/>
<circle cx="999.5" cy="299.5" r="14" fill="url(#gH)"/>
<circle cx="1065" cy="351" r="17.6" fill="url(#gC)"/>
<circle cx="1029" cy="367" r="13" fill="url(#gH)"/>
<circle cx="1036" cy="227.5" r="19" fill="url(#gC)"/>
<rect x="0" y="-8.8" width="0.9" height="17.6" fill="url(#bC_m3)" transform="translate(1050.1 291) rotate(28.4)"/><rect x="0" y="-8.8" width="0.9" height="17.6" fill="url(#bO_m3)" transform="translate(1050.5 291.2) rotate(28.4)"/>
<rect x="0" y="-8.8" width="13" height="17.6" fill="url(#bO_m2)" transform="translate(1063.5 312) rotate(87.8)"/><rect x="0" y="-8.8" width="11.7" height="17.6" fill="url(#bC_m2)" transform="translate(1064 324.5) rotate(87.8)"/>
<rect x="0" y="-8.3" width="4.5" height="16.5" fill="url(#bC_m1)" transform="translate(1024.4 135.6) rotate(-19.7)"/><rect x="0" y="-8.3" width="11.5" height="16.5" fill="url(#bH_m1)" transform="translate(1028.3 134.2) rotate(-19.7)"/>
<rect x="0" y="-8.8" width="14.5" height="17.6" fill="url(#bC_m2)" transform="translate(1008.5 158.7) rotate(88.2)"/><rect x="0" y="-8.8" width="14.8" height="17.6" fill="url(#bC_m2)" transform="translate(1009 172.8) rotate(88.2)"/>
<rect x="0" y="-8.3" width="4.9" height="16.5" fill="url(#bC_p1)" transform="translate(994 209.9) rotate(159.7)"/><rect x="0" y="-8.3" width="10.7" height="16.5" fill="url(#bH_p1)" transform="translate(989.8 211.5) rotate(159.7)"/>
<rect x="0" y="-8.3" width="4.5" height="16.5" fill="url(#bC_p1)" transform="translate(1022.6 290.5) rotate(158.7)"/><rect x="0" y="-8.3" width="9.8" height="16.5" fill="url(#bH_p1)" transform="translate(1018.8 292) rotate(158.7)"/>
<rect x="0" y="-8.3" width="4.6" height="16.5" fill="url(#bC_p1)" transform="translate(1050.8 357.3) rotate(156)"/><rect x="0" y="-8.3" width="10.1" height="16.5" fill="url(#bH_p1)" transform="translate(1047 359) rotate(156)"/>
<rect x="0" y="-8.8" width="1.1" height="17.6" fill="url(#bC_m3)" transform="translate(1022.5 215.3) rotate(42.1)"/><rect x="0" y="-8.8" width="1.1" height="17.6" fill="url(#bC_m3)" transform="translate(1023 215.8) rotate(42.1)"/>
<rect x="0" y="-8.3" width="4.5" height="16.5" fill="url(#bC_m1)" transform="translate(1051.8 220.8) rotate(-22.9)"/><rect x="0" y="-8.3" width="10.3" height="16.5" fill="url(#bH_m1)" transform="translate(1055.5 219.2) rotate(-22.9)"/>
<rect x="0" y="-8.8" width="12.1" height="17.6" fill="url(#bC_m2)" transform="translate(1036.6 244.3) rotate(88)"/><rect x="0" y="-8.8" width="12.6" height="17.6" fill="url(#bC_m2)" transform="translate(1037 256) rotate(88)"/>
<rect x="2.5" y="-8.3" width="14.3" height="16.5" rx="3.6" ry="8.3" fill="url(#bCd_p3)" transform="translate(1008 141.5) rotate(-146.2)"/><rect x="0" y="-8.3" width="13.2" height="16.5" fill="url(#bH_p3)" transform="translate(997.4 134.4) rotate(-146.2)"/>
<rect x="0.8" y="-8.3" width="14.4" height="16.5" rx="3.6" ry="8.3" fill="url(#bCd_m3)" transform="translate(1010 204) rotate(32.3)"/><rect x="0" y="-8.3" width="11.6" height="16.5" fill="url(#bH_m3)" transform="translate(1019.5 210) rotate(32.3)"/>
<rect x="2.7" y="-8.3" width="14.1" height="16.5" rx="3.6" ry="8.3" fill="url(#bCd_m3)" transform="translate(1038 284.5) rotate(37.1)"/><rect x="0" y="-8.3" width="13.3" height="16.5" fill="url(#bH_m3)" transform="translate(1048.2 292.2) rotate(37.1)"/>
<rect x="5" y="-8.3" width="13.5" height="16.5" rx="3.6" ry="8.3" fill="url(#bCd_m3)" transform="translate(1065 351) rotate(38.7)"/><rect x="0" y="-8.3" width="14.8" height="16.5" fill="url(#bH_m3)" transform="translate(1076.2 360) rotate(38.7)"/>
<circle cx="986.8" cy="127.3" r="14.6" fill="url(#gH)"/>
<circle cx="1029" cy="216" r="14" fill="url(#gH)"/>
<circle cx="1058.5" cy="300" r="13.5" fill="url(#gH)"/>
<circle cx="1087.5" cy="369" r="13" fill="url(#gH)"/></g>
<g><circle cx="1223" cy="149" r="15" fill="url(#gH)"/>
<circle cx="1300" cy="149" r="14.6" fill="url(#gH)"/>
<circle cx="1266" cy="160" r="19.5" fill="url(#gC)"/>
<rect x="0" y="-9.6" width="5.6" height="19.2" fill="url(#bC_p3)" transform="translate(1249.6 155.8) rotate(-165.7)"/><rect x="0" y="-9.6" width="11.1" height="19.2" fill="url(#bH_p3)" transform="translate(1244.5 154.5) rotate(-165.7)"/>
<rect x="0" y="-9.6" width="1.3" height="19.2" fill="url(#bC_m1)" transform="translate(1282.1 154.8) rotate(-17.9)"/><rect x="0" y="-9.6" width="7.3" height="19.2" fill="url(#bH_m1)" transform="translate(1283 154.5) rotate(-17.9)"/>
<rect x="0" y="-10.2" width="36.5" height="20.4" fill="url(#bC_p2)" transform="translate(1270 232) rotate(-93.2)"/><rect x="0" y="-10.2" width="19.8" height="20.4" fill="url(#bC_p2)" transform="translate(1268 196) rotate(-93.2)"/>
<circle cx="1210.5" cy="316" r="19" fill="url(#gO)"/>
<circle cx="1214.5" cy="265.5" r="21.5" fill="url(#gC)"/>
<circle cx="1175" cy="241" r="15.4" fill="url(#gH)"/>
<circle cx="1270" cy="232" r="21.8" fill="url(#gC)"/>
<circle cx="1308" cy="255.3" r="15.6" fill="url(#gH)"/>
<rect x="0" y="-10.2" width="9.7" height="20.4" fill="url(#bO_p2)" transform="translate(1211.8 300) rotate(-85.5)"/><rect x="0" y="-10.2" width="6.8" height="20.4" fill="url(#bC_p2)" transform="translate(1212.5 290.8) rotate(-85.5)"/>
<rect x="0" y="-9.6" width="4.4" height="19.2" fill="url(#bC_p3)" transform="translate(1198.2 255.4) rotate(-148.2)"/><rect x="0" y="-9.6" width="11.6" height="19.2" fill="url(#bH_p3)" transform="translate(1194.8 253.2) rotate(-148.2)"/>
<rect x="0" y="-10.2" width="13.9" height="20.4" fill="url(#bC_m1)" transform="translate(1230.7 255.7) rotate(-31.1)"/><rect x="0" y="-10.2" width="13.6" height="20.4" fill="url(#bC_m1)" transform="translate(1242.2 248.8) rotate(-31.1)"/>
<rect x="0" y="-9.6" width="3.1" height="19.2" fill="url(#bC_m3)" transform="translate(1286.7 242.2) rotate(31.5)"/><rect x="0" y="-9.6" width="10.4" height="19.2" fill="url(#bH_m3)" transform="translate(1289 243.7) rotate(31.5)"/>
<rect x="6.1" y="-10.2" width="23.4" height="20.4" rx="4.5" ry="10.2" fill="url(#bCdd_p2)" transform="translate(1270 232) rotate(-75.5)"/><rect x="0" y="-10.2" width="24.9" height="20.4" fill="url(#bCdd_p2)" transform="translate(1276.2 208.2) rotate(-75.5)"/>
<circle cx="1282.3" cy="184.5" r="22.5" fill="url(#gC)"/>
<circle cx="1245.8" cy="179.5" r="16" fill="url(#gH)"/>
<circle cx="1330" cy="179.5" r="15.8" fill="url(#gH)"/>
<rect x="0" y="-9.6" width="0.9" height="19.2" fill="url(#bC_p3)" transform="translate(1264.5 182.1) rotate(-172.2)"/><rect x="0" y="-9.6" width="6" height="19.2" fill="url(#bH_p3)" transform="translate(1264 182) rotate(-172.2)"/>
<rect x="0" y="-9.6" width="4" height="19.2" fill="url(#bC_m2)" transform="translate(1302.5 182.4) rotate(-6)"/><rect x="0" y="-9.6" width="11.8" height="19.2" fill="url(#bH_m2)" transform="translate(1306.2 182) rotate(-6)"/></g>
<g><circle cx="1590.6" cy="139.8" r="13.3" fill="url(#gH)"/>
<circle cx="1548.6" cy="150" r="18.8" fill="url(#gC)"/>
<circle cx="1547.1" cy="208.6" r="17.1" fill="url(#gN)"/>
<circle cx="1577.1" cy="228.8" r="13.3" fill="url(#gH)"/>
<circle cx="1499.8" cy="232.5" r="18.8" fill="url(#gC)"/>
<circle cx="1455.8" cy="208.3" r="17.1" fill="url(#gN)"/>
<circle cx="1426.7" cy="234.8" r="13.3" fill="url(#gH)"/>
<circle cx="1502.5" cy="292.5" r="18.8" fill="url(#gC)"/>
<circle cx="1543" cy="307.3" r="13.3" fill="url(#gH)"/>
<circle cx="1465" cy="319" r="16.8" fill="url(#gO)"/>
<rect x="0" y="-8.4" width="5.2" height="16.8" fill="url(#bC_m2)" transform="translate(1564.9 146) rotate(-13.7)"/><rect x="0" y="-8.4" width="11.7" height="16.8" fill="url(#bH_m2)" transform="translate(1569.6 144.9) rotate(-13.7)"/>
<rect x="0" y="-8.9" width="13.2" height="17.9" fill="url(#bC_m2)" transform="translate(1548.2 166.5) rotate(91.5)"/><rect x="0" y="-8.9" width="15.1" height="17.9" fill="url(#bN_m2)" transform="translate(1547.8 179.3) rotate(91.5)"/>
<rect x="0" y="-8.4" width="3.6" height="16.8" fill="url(#bN_m3)" transform="translate(1559.5 216.9) rotate(34)"/><rect x="0" y="-8.4" width="8.2" height="16.8" fill="url(#bH_m3)" transform="translate(1562.1 218.7) rotate(34)"/>
<rect x="0" y="-8.9" width="12.3" height="17.9" fill="url(#bN_p1)" transform="translate(1534.1 215.2) rotate(153.2)"/><rect x="0" y="-8.9" width="10.4" height="17.9" fill="url(#bC_p1)" transform="translate(1523.4 220.6) rotate(153.2)"/>
<rect x="0" y="-8.9" width="9" height="17.9" fill="url(#bC_p3)" transform="translate(1485.3 224.5) rotate(-151.2)"/><rect x="0" y="-8.9" width="10.9" height="17.9" fill="url(#bN_p3)" transform="translate(1477.8 220.4) rotate(-151.2)"/>
<rect x="0" y="-8.4" width="5.2" height="16.8" fill="url(#bN_p0)" transform="translate(1444.8 218.3) rotate(137.7)"/><rect x="0" y="-8.4" width="9.8" height="16.8" fill="url(#bH_p0)" transform="translate(1441.2 221.6) rotate(137.7)"/>
<rect x="0" y="-8.9" width="13.9" height="17.9" fill="url(#bC_m2)" transform="translate(1500.5 249) rotate(87.4)"/><rect x="0" y="-8.9" width="13.9" height="17.9" fill="url(#bC_m2)" transform="translate(1501.2 262.5) rotate(87.4)"/>
<rect x="0" y="-8.4" width="5.1" height="16.8" fill="url(#bC_m3)" transform="translate(1518.3 298.3) rotate(20.1)"/><rect x="0" y="-8.4" width="11.6" height="16.8" fill="url(#bH_m3)" transform="translate(1522.8 299.9) rotate(20.1)"/>
<rect x="0" y="-8.9" width="6.8" height="17.9" fill="url(#bC_p1)" transform="translate(1489 302) rotate(144.8)"/><rect x="0" y="-8.9" width="9.1" height="17.9" fill="url(#bO_p1)" transform="translate(1483.8 305.8) rotate(144.8)"/>
<rect x="4.1" y="-8.4" width="14.1" height="16.8" rx="3.7" ry="8.4" fill="url(#bCd_p3)" transform="translate(1548.6 150) rotate(-142.6)"/><rect x="0" y="-8.4" width="14.6" height="16.8" fill="url(#bH_p3)" transform="translate(1537.3 141.4) rotate(-142.6)"/>
<circle cx="1526.1" cy="132.8" r="13.9" fill="url(#gH)"/></g>
<g><circle cx="170.8" cy="784.1" r="18.2" fill="url(#gN)"/>
<circle cx="138.5" cy="765" r="14.1" fill="url(#gH)"/>
<circle cx="204.5" cy="773" r="14.1" fill="url(#gH)"/>
<circle cx="164.5" cy="841.5" r="20" fill="url(#gC)"/>
<circle cx="212.5" cy="870" r="17.9" fill="url(#gO)"/>
<circle cx="121.2" cy="874.2" r="20" fill="url(#gC)"/>
<circle cx="76.9" cy="863.1" r="14.1" fill="url(#gH)"/>
<circle cx="141" cy="930" r="20" fill="url(#gC)"/>
<circle cx="197.5" cy="926.5" r="20" fill="url(#gC)"/>
<circle cx="229.5" cy="953.5" r="14.1" fill="url(#gH)"/>
<circle cx="110.2" cy="976.7" r="18.2" fill="url(#gN)"/>
<circle cx="76" cy="973.5" r="14.1" fill="url(#gH)"/>
<circle cx="130.5" cy="1009.5" r="14.1" fill="url(#gH)"/>
<rect x="0" y="-8.9" width="3.3" height="17.9" fill="url(#bN_p3)" transform="translate(157.1 776) rotate(-149.4)"/><rect x="0" y="-8.9" width="8.3" height="17.9" fill="url(#bH_p3)" transform="translate(154.7 774.5) rotate(-149.4)"/>
<rect x="0" y="-8.9" width="2.3" height="17.9" fill="url(#bN_m1)" transform="translate(185.9 779.1) rotate(-18.2)"/><rect x="0" y="-8.9" width="7.2" height="17.9" fill="url(#bH_m1)" transform="translate(187.7 778.5) rotate(-18.2)"/>
<rect x="0" y="-9.5" width="13.7" height="19" fill="url(#bN_m2)" transform="translate(169.1 799.5) rotate(96.3)"/><rect x="0" y="-9.5" width="11.7" height="19" fill="url(#bC_m2)" transform="translate(167.7 812.8) rotate(96.3)"/>
<rect x="0" y="-9.5" width="10.7" height="19" fill="url(#bC_m3)" transform="translate(179.6 850.5) rotate(30.7)"/><rect x="0" y="-9.5" width="13.1" height="19" fill="url(#bO_m3)" transform="translate(188.5 855.8) rotate(30.7)"/>
<rect x="0" y="-9.5" width="9.9" height="19" fill="url(#bC_p0)" transform="translate(150.5 852.1) rotate(142.9)"/><rect x="0" y="-9.5" width="9.9" height="19" fill="url(#bC_p0)" transform="translate(142.8 857.9) rotate(142.9)"/>
<rect x="0" y="-8.9" width="5.3" height="17.9" fill="url(#bC_p3)" transform="translate(103.8 869.9) rotate(-165.9)"/><rect x="0" y="-8.9" width="12.3" height="17.9" fill="url(#bH_p3)" transform="translate(99 868.7) rotate(-165.9)"/>
<rect x="0" y="-9.5" width="12.4" height="19" fill="url(#bC_m3)" transform="translate(127.1 890.8) rotate(70.5)"/><rect x="0" y="-9.5" width="12.4" height="19" fill="url(#bC_m3)" transform="translate(131.1 902.1) rotate(70.5)"/>
<rect x="0" y="-9.5" width="11.1" height="19" fill="url(#bC_m2)" transform="translate(158.6 928.9) rotate(-3.5)"/><rect x="0" y="-9.5" width="11.1" height="19" fill="url(#bC_m2)" transform="translate(169.2 928.2) rotate(-3.5)"/>
<rect x="0" y="-9.5" width="12" height="19" fill="url(#bC_p2)" transform="translate(202 909.5) rotate(-75.1)"/><rect x="0" y="-9.5" width="14.5" height="19" fill="url(#bO_p2)" transform="translate(205 898.2) rotate(-75.1)"/>
<rect x="0" y="-8.9" width="3.4" height="17.9" fill="url(#bC_m3)" transform="translate(211.2 938) rotate(40.2)"/><rect x="0" y="-8.9" width="10.4" height="17.9" fill="url(#bH_m3)" transform="translate(213.5 940) rotate(40.2)"/>
<rect x="0" y="-9.5" width="10.8" height="19" fill="url(#bC_m1)" transform="translate(131.3 944.7) rotate(123.4)"/><rect x="0" y="-9.5" width="12.8" height="19" fill="url(#bN_m1)" transform="translate(125.6 953.4) rotate(123.4)"/>
<rect x="0" y="-8.9" width="1.7" height="17.9" fill="url(#bN_p2)" transform="translate(94.4 975.2) rotate(-174.7)"/><rect x="0" y="-8.9" width="6.7" height="17.9" fill="url(#bH_p2)" transform="translate(93.1 975.1) rotate(-174.7)"/>
<rect x="0" y="-8.9" width="3.8" height="17.9" fill="url(#bN_m3)" transform="translate(118.5 990.2) rotate(58.2)"/><rect x="0" y="-8.9" width="8.8" height="17.9" fill="url(#bH_m3)" transform="translate(120.3 993.1) rotate(58.2)"/></g>
<g><circle cx="396.3" cy="796.8" r="16.7" fill="url(#gN)"/>
<circle cx="363" cy="784.5" r="12.9" fill="url(#gH)"/>
<circle cx="425.5" cy="780" r="12.9" fill="url(#gH)"/>
<circle cx="397.8" cy="850" r="18.3" fill="url(#gC)"/>
<circle cx="354.5" cy="871.5" r="16.7" fill="url(#gN)"/>
<circle cx="442.9" cy="873.6" r="18.3" fill="url(#gC)"/>
<circle cx="478.5" cy="854.4" r="12.9" fill="url(#gH)"/>
<circle cx="442.5" cy="926.5" r="18.3" fill="url(#gC)"/>
<circle cx="476.5" cy="945" r="12.9" fill="url(#gH)"/>
<circle cx="397.2" cy="949" r="18.3" fill="url(#gC)"/>
<circle cx="394.5" cy="988" r="12.9" fill="url(#gH)"/>
<circle cx="354.5" cy="921.5" r="18.3" fill="url(#gC)"/>
<circle cx="319.5" cy="938" r="12.9" fill="url(#gH)"/>
<rect x="0" y="-8.2" width="3.6" height="16.3" fill="url(#bN_p3)" transform="translate(382.6 791.8) rotate(-159.7)"/><rect x="0" y="-8.2" width="8.2" height="16.3" fill="url(#bH_p3)" transform="translate(379.6 790.6) rotate(-159.7)"/>
<rect x="0" y="-8.2" width="2.7" height="16.3" fill="url(#bN_m1)" transform="translate(408.9 789.5) rotate(-29.9)"/><rect x="0" y="-8.2" width="7.3" height="16.3" fill="url(#bH_m1)" transform="translate(410.9 788.4) rotate(-29.9)"/>
<rect x="0" y="-8.7" width="12.8" height="17.4" fill="url(#bN_m2)" transform="translate(396.7 811.1) rotate(88.4)"/><rect x="0" y="-8.7" width="10.9" height="17.4" fill="url(#bC_m2)" transform="translate(397 823.4) rotate(88.4)"/>
<rect x="0" y="-8.7" width="8.5" height="17.4" fill="url(#bC_p1)" transform="translate(383.4 857.2) rotate(153.6)"/><rect x="0" y="-8.7" width="10.3" height="17.4" fill="url(#bN_p1)" transform="translate(376.1 860.8) rotate(153.6)"/>
<rect x="0" y="-8.7" width="9.7" height="17.4" fill="url(#bC_m3)" transform="translate(412.1 857.5) rotate(27.6)"/><rect x="0" y="-8.7" width="9.7" height="17.4" fill="url(#bC_m3)" transform="translate(420.3 861.8) rotate(27.6)"/>
<rect x="0" y="-8.2" width="4.2" height="16.3" fill="url(#bC_m1)" transform="translate(457.3 865.8) rotate(-28.3)"/><rect x="0" y="-8.2" width="10.6" height="16.3" fill="url(#bH_m1)" transform="translate(460.7 864) rotate(-28.3)"/>
<rect x="0" y="-8.7" width="10.7" height="17.4" fill="url(#bC_m2)" transform="translate(442.8 889.7) rotate(90.4)"/><rect x="0" y="-8.7" width="10.7" height="17.4" fill="url(#bC_m2)" transform="translate(442.7 900) rotate(90.4)"/>
<rect x="0" y="-8.2" width="3.4" height="16.3" fill="url(#bC_m3)" transform="translate(456.9 934.3) rotate(28.6)"/><rect x="0" y="-8.2" width="9.8" height="16.3" fill="url(#bH_m3)" transform="translate(459.5 935.8) rotate(28.6)"/>
<rect x="0" y="-8.7" width="9.6" height="17.4" fill="url(#bC_p1)" transform="translate(428.1 933.7) rotate(153.6)"/><rect x="0" y="-8.7" width="9.6" height="17.4" fill="url(#bC_p1)" transform="translate(419.9 937.8) rotate(153.6)"/>
<rect x="0" y="-8.2" width="3.6" height="16.3" fill="url(#bC_m2)" transform="translate(396.1 965.3) rotate(94)"/><rect x="0" y="-8.2" width="10" height="16.3" fill="url(#bH_m2)" transform="translate(395.9 968.5) rotate(94)"/>
<rect x="0" y="-8.7" width="9.7" height="17.4" fill="url(#bC_p3)" transform="translate(383.7 940.3) rotate(-147.2)"/><rect x="0" y="-8.7" width="9.7" height="17.4" fill="url(#bC_p3)" transform="translate(375.9 935.2) rotate(-147.2)"/>
<rect x="0" y="-8.2" width="3.4" height="16.3" fill="url(#bC_p1)" transform="translate(339.7 928.5) rotate(154.8)"/><rect x="0" y="-8.2" width="9.8" height="16.3" fill="url(#bH_p1)" transform="translate(337 929.8) rotate(154.8)"/>
<rect x="0" y="-8.7" width="9.3" height="17.4" fill="url(#bC_p2)" transform="translate(354.5 905.4) rotate(-90)"/><rect x="0" y="-8.7" width="11.1" height="17.4" fill="url(#bN_p2)" transform="translate(354.5 896.5) rotate(-90)"/></g>
<g><circle cx="559.5" cy="825" r="12.4" fill="url(#gH)"/>
<circle cx="588.5" cy="844" r="16" fill="url(#gN)"/>
<circle cx="632.5" cy="825" r="16" fill="url(#gN)"/>
<circle cx="587.5" cy="891.5" r="16" fill="url(#gN)"/>
<circle cx="660.5" cy="863" r="17.5" fill="url(#gC)"/>
<circle cx="698.5" cy="858.5" r="12.4" fill="url(#gH)"/>
<circle cx="633.5" cy="902" r="17.5" fill="url(#gC)"/>
<circle cx="643.5" cy="940" r="12.4" fill="url(#gH)"/>
<rect x="0" y="-7.8" width="8.1" height="15.6" fill="url(#bH_m3)" transform="translate(567.6 830.3) rotate(33.2)"/><rect x="0" y="-7.8" width="3.8" height="15.6" fill="url(#bN_m3)" transform="translate(574 834.5) rotate(33.2)"/>
<rect x="0" y="-8.3" width="10.7" height="16.6" fill="url(#bN_m1)" transform="translate(601.1 838.6) rotate(-23.4)"/><rect x="0" y="-8.3" width="10.7" height="16.6" fill="url(#bN_m1)" transform="translate(610.5 834.5) rotate(-23.4)"/>
<rect x="0" y="-8.3" width="10.5" height="16.6" fill="url(#bN_m2)" transform="translate(588.2 857.7) rotate(91.2)"/><rect x="0" y="-8.3" width="10.5" height="16.6" fill="url(#bN_m2)" transform="translate(588 867.8) rotate(91.2)"/>
<rect x="0" y="-8.3" width="10.3" height="16.6" fill="url(#bN_m3)" transform="translate(640.6 836) rotate(53.6)"/><rect x="0" y="-8.3" width="8.6" height="16.6" fill="url(#bC_m3)" transform="translate(646.5 844) rotate(53.6)"/>
<rect x="0" y="-7.8" width="3.9" height="15.6" fill="url(#bC_m2)" transform="translate(676.1 861.2) rotate(-6.8)"/><rect x="0" y="-7.8" width="9.9" height="15.6" fill="url(#bH_m2)" transform="translate(679.5 860.8) rotate(-6.8)"/>
<rect x="0" y="-8.3" width="8.7" height="16.6" fill="url(#bC_m1)" transform="translate(651.7 875.7) rotate(124.7)"/><rect x="0" y="-8.3" width="8.7" height="16.6" fill="url(#bC_m1)" transform="translate(647 882.5) rotate(124.7)"/>
<rect x="0" y="-8.3" width="8.6" height="16.6" fill="url(#bC_p3)" transform="translate(618.5 898.6) rotate(-167.1)"/><rect x="0" y="-8.3" width="10.3" height="16.6" fill="url(#bN_p3)" transform="translate(610.5 896.8) rotate(-167.1)"/>
<rect x="0" y="-7.8" width="4.4" height="15.6" fill="url(#bC_m3)" transform="translate(637.5 917.1) rotate(75.3)"/><rect x="0" y="-7.8" width="10.4" height="15.6" fill="url(#bH_m3)" transform="translate(638.5 921) rotate(75.3)"/></g>
<g><circle cx="1291" cy="770" r="10" fill="url(#gH)"/>
<circle cx="1265.5" cy="1007" r="10.5" fill="url(#gH)"/>
<rect x="0" y="-7.9" width="13" height="15.9" fill="url(#bC_p3)" transform="translate(1310.3 786.3) rotate(-139.8)"/><rect x="0" y="-7.9" width="7" height="15.9" fill="url(#bH_p3)" transform="translate(1300.7 778.1) rotate(-139.8)"/>
<rect x="0" y="-7.9" width="11.4" height="15.9" fill="url(#bC_m3)" transform="translate(1250.3 991) rotate(46.5)"/><rect x="0" y="-7.9" width="4.6" height="15.9" fill="url(#bH_m3)" transform="translate(1257.9 999) rotate(46.5)"/>
<circle cx="1285.6" cy="831" r="16.5" fill="url(#gO)"/>
<circle cx="1310.3" cy="786.3" r="17.6" fill="url(#gC)"/>
<circle cx="1351.6" cy="790.8" r="13" fill="url(#gH)"/>
<circle cx="1297.6" cy="857.6" r="17.6" fill="url(#gC)"/>
<circle cx="1340.3" cy="863.6" r="13.5" fill="url(#gH)"/>
<circle cx="1270.6" cy="904" r="18" fill="url(#gC)"/>
<circle cx="1227.8" cy="897.3" r="13.5" fill="url(#gH)"/>
<circle cx="1323.1" cy="948.3" r="13.5" fill="url(#gH)"/>
<circle cx="1250.3" cy="991" r="18" fill="url(#gC)"/>
<circle cx="1206.8" cy="984.3" r="13.5" fill="url(#gH)"/>
<rect x="0" y="-8.5" width="10.5" height="16.9" fill="url(#bC_m1)" transform="translate(1302.8 799.8) rotate(118.9)"/><rect x="0" y="-8.5" width="11.8" height="16.9" fill="url(#bO_m1)" transform="translate(1297.9 808.6) rotate(118.9)"/>
<rect x="0" y="-8.5" width="0.9" height="16.9" fill="url(#bO_m3)" transform="translate(1291.4 843.8) rotate(65.7)"/><rect x="0" y="-8.5" width="0.9" height="16.9" fill="url(#bC_m3)" transform="translate(1291.6 844.3) rotate(65.7)"/>
<circle cx="1280.3" cy="940.8" r="18.7" fill="url(#gC)"/>
<rect x="0" y="-7.9" width="5.5" height="15.9" fill="url(#bC_m2)" transform="translate(1325.9 788) rotate(6.2)"/><rect x="0" y="-7.9" width="10.9" height="15.9" fill="url(#bH_m2)" transform="translate(1330.9 788.5) rotate(6.2)"/>
<rect x="0" y="-7.9" width="6.3" height="15.9" fill="url(#bC_m3)" transform="translate(1313.2 859.8) rotate(8)"/><rect x="0" y="-7.9" width="11" height="15.9" fill="url(#bH_m3)" transform="translate(1318.9 860.6) rotate(8)"/>
<rect x="0" y="-8.5" width="11.8" height="16.9" fill="url(#bC_m1)" transform="translate(1289.8 870.9) rotate(120.2)"/><rect x="0" y="-8.5" width="11.4" height="16.9" fill="url(#bC_m1)" transform="translate(1284.1 880.8) rotate(120.2)"/>
<rect x="0" y="-7.9" width="5.9" height="15.9" fill="url(#bC_p3)" transform="translate(1254.6 901.5) rotate(-171.1)"/><rect x="0" y="-7.9" width="11.1" height="15.9" fill="url(#bH_p3)" transform="translate(1249.2 900.6) rotate(-171.1)"/>
<rect x="0" y="-7.9" width="6.3" height="15.9" fill="url(#bC_p3)" transform="translate(1234.3 988.5) rotate(-171.2)"/><rect x="0" y="-7.9" width="11.5" height="15.9" fill="url(#bH_p3)" transform="translate(1228.5 987.6) rotate(-171.2)"/>
<rect x="0" y="-8.5" width="3.5" height="16.9" fill="url(#bC_m3)" transform="translate(1274.7 919.4) rotate(75.2)"/><rect x="0" y="-8.5" width="2.7" height="16.9" fill="url(#bC_m3)" transform="translate(1275.4 922.4) rotate(75.2)"/>
<rect x="0" y="-7.9" width="5.2" height="15.9" fill="url(#bC_m3)" transform="translate(1297 943.7) rotate(9.9)"/><rect x="0" y="-7.9" width="11.2" height="15.9" fill="url(#bH_m3)" transform="translate(1301.7 944.5) rotate(9.9)"/>
<rect x="0" y="-8.5" width="13" height="16.9" fill="url(#bC_m1)" transform="translate(1271.7 955.1) rotate(120.9)"/><rect x="0" y="-8.5" width="13.7" height="16.9" fill="url(#bC_m1)" transform="translate(1265.3 965.9) rotate(120.9)"/>
<rect x="5.4" y="-7.9" width="13.1" height="15.9" rx="3.5" ry="7.9" fill="url(#bCd_p3)" transform="translate(1310.3 786.3) rotate(-105.7)"/><rect x="0" y="-7.9" width="15" height="15.9" fill="url(#bH_p3)" transform="translate(1306.3 772.2) rotate(-105.7)"/>
<rect x="3.8" y="-7.9" width="13.4" height="15.9" rx="3.5" ry="7.9" fill="url(#bCd_p3)" transform="translate(1297.6 857.6) rotate(-106.5)"/><rect x="0" y="-7.9" width="13.8" height="15.9" fill="url(#bH_p3)" transform="translate(1293.8 844.8) rotate(-106.5)"/>
<rect x="3.8" y="-7.9" width="13.5" height="15.9" rx="3.5" ry="7.9" fill="url(#bCd_m3)" transform="translate(1250.3 991) rotate(72.2)"/><rect x="0" y="-7.9" width="13.8" height="15.9" fill="url(#bH_m3)" transform="translate(1254.4 1003.8) rotate(72.2)"/>
<rect x="2.7" y="-7.9" width="13.8" height="15.9" rx="3.5" ry="7.9" fill="url(#bCd_p3)" transform="translate(1280.3 940.8) rotate(-112.6)"/><rect x="0" y="-7.9" width="13" height="15.9" fill="url(#bH_p3)" transform="translate(1275.4 929.1) rotate(-112.6)"/>
<circle cx="1302.4" cy="758.2" r="13" fill="url(#gH)"/>
<circle cx="1290" cy="832" r="13.5" fill="url(#gH)"/>
<circle cx="1270.6" cy="917.5" r="13.5" fill="url(#gH)"/>
<circle cx="1258.5" cy="1016.6" r="14" fill="url(#gH)"/></g>
<g><circle cx="1564.3" cy="901.3" r="15.4" fill="url(#gH)"/>
<circle cx="1526.3" cy="968" r="15" fill="url(#gH)"/>
<circle cx="1533" cy="932" r="17.5" fill="url(#gC)"/>
<rect x="0" y="-9.8" width="7.8" height="19.6" fill="url(#bC_p0)" transform="translate(1543.3 921.9) rotate(-44.4)"/><rect x="0" y="-9.8" width="10.5" height="19.6" fill="url(#bH_p0)" transform="translate(1548.7 916.6) rotate(-44.4)"/>
<rect x="0" y="-9.8" width="4.2" height="19.6" fill="url(#bC_m2)" transform="translate(1530.4 946.2) rotate(100.5)"/><rect x="0" y="-9.8" width="7.4" height="19.6" fill="url(#bH_m2)" transform="translate(1529.7 950) rotate(100.5)"/>
<rect x="0" y="-10.4" width="35.9" height="20.9" fill="url(#bC_m3)" transform="translate(1468.2 902.8) rotate(24.3)"/><rect x="0" y="-10.4" width="21.9" height="20.9" fill="url(#bC_m3)" transform="translate(1500.6 917.4) rotate(24.3)"/>
<circle cx="1424" cy="808.7" r="19.9" fill="url(#gO)"/>
<circle cx="1464.8" cy="836" r="22.5" fill="url(#gC)"/>
<circle cx="1506.8" cy="814.3" r="16" fill="url(#gH)"/>
<circle cx="1468.2" cy="902.8" r="21.8" fill="url(#gC)"/>
<circle cx="1429" cy="922.8" r="15.6" fill="url(#gH)"/>
<rect x="0" y="-10.4" width="8" height="20.9" fill="url(#bO_m3)" transform="translate(1438.1 818.1) rotate(33.8)"/><rect x="0" y="-10.4" width="5" height="20.9" fill="url(#bC_m3)" transform="translate(1444.4 822.4) rotate(33.8)"/>
<rect x="0" y="-9.8" width="3.8" height="19.6" fill="url(#bC_m1)" transform="translate(1482.8 826.7) rotate(-27.3)"/><rect x="0" y="-9.8" width="11.4" height="19.6" fill="url(#bH_m1)" transform="translate(1485.8 825.1) rotate(-27.3)"/>
<rect x="0" y="-10.4" width="13.9" height="20.9" fill="url(#bC_m2)" transform="translate(1465.8 855.9) rotate(87.1)"/><rect x="0" y="-10.4" width="14.7" height="20.9" fill="url(#bC_m2)" transform="translate(1466.5 869.4) rotate(87.1)"/>
<rect x="0" y="-9.8" width="2.9" height="19.6" fill="url(#bC_p1)" transform="translate(1450.9 911.6) rotate(153)"/><rect x="0" y="-9.8" width="10.3" height="19.6" fill="url(#bH_p1)" transform="translate(1448.6 912.8) rotate(153)"/>
<rect x="5.5" y="-10.4" width="23.6" height="20.9" rx="4.6" ry="10.4" fill="url(#bCdd_m3)" transform="translate(1468.2 902.8) rotate(40.9)"/><rect x="0" y="-10.4" width="24.5" height="20.9" fill="url(#bCdd_m3)" transform="translate(1486.4 918.5) rotate(40.9)"/>
<circle cx="1504.6" cy="934.3" r="22.9" fill="url(#gC)"/>
<circle cx="1485.8" cy="979.3" r="16.5" fill="url(#gH)"/>
<rect x="0" y="-9.8" width="4.1" height="19.6" fill="url(#bC_m1)" transform="translate(1496.6 953.4) rotate(112.7)"/><rect x="0" y="-9.8" width="11.5" height="19.6" fill="url(#bH_m1)" transform="translate(1495.2 956.8) rotate(112.7)"/>
<rect x="6.5" y="-9.8" width="16.2" height="19.6" rx="4.3" ry="9.8" fill="url(#bCl_p0)" transform="translate(1504.6 934.3) rotate(-52.7)"/><rect x="0" y="-9.8" width="18.3" height="19.6" fill="url(#bH_p0)" transform="translate(1515.4 920) rotate(-52.7)"/>
<circle cx="1526.3" cy="905.8" r="16" fill="url(#gH)"/></g>
<g><circle cx="1632" cy="819.5" r="12" fill="url(#gH)"/>
<rect x="0" y="-8.4" width="11.3" height="16.9" fill="url(#bC_p2)" transform="translate(1653 813.5) rotate(164.1)"/><rect x="0" y="-8.4" width="2.8" height="16.9" fill="url(#bH_p2)" transform="translate(1642.5 816.5) rotate(164.1)"/>
<circle cx="1651.5" cy="770.8" r="13.3" fill="url(#gH)"/>
<circle cx="1653" cy="813.5" r="18.9" fill="url(#gC)"/>
<circle cx="1706.3" cy="830.8" r="16.9" fill="url(#gN)"/>
<circle cx="1734.1" cy="807.5" r="13.3" fill="url(#gH)"/>
<circle cx="1716.8" cy="883.7" r="18.9" fill="url(#gC)"/>
<circle cx="1776.1" cy="893" r="18.9" fill="url(#gC)"/>
<circle cx="1801.1" cy="860.8" r="13.3" fill="url(#gH)"/>
<circle cx="1791.9" cy="938" r="16.9" fill="url(#gO)"/>
<circle cx="1682.8" cy="918.5" r="18" fill="url(#gN)"/>
<circle cx="1701.1" cy="954.6" r="13.3" fill="url(#gH)"/>
<rect x="0" y="-8.4" width="4.9" height="16.9" fill="url(#bC_p2)" transform="translate(1652.4 796.6) rotate(-92)"/><rect x="0" y="-8.4" width="11.5" height="16.9" fill="url(#bH_p2)" transform="translate(1652.2 792.1) rotate(-92)"/>
<rect x="0" y="-9" width="11.8" height="18" fill="url(#bC_m3)" transform="translate(1668.8 818.6) rotate(18)"/><rect x="0" y="-9" width="14.1" height="18" fill="url(#bN_m3)" transform="translate(1679.7 822.1) rotate(18)"/>
<rect x="0" y="-8.4" width="3.9" height="16.9" fill="url(#bN_p0)" transform="translate(1717.5 821.4) rotate(-40)"/><rect x="0" y="-8.4" width="8.3" height="16.9" fill="url(#bH_p0)" transform="translate(1720.2 819.1) rotate(-40)"/>
<rect x="0" y="-9" width="13" height="18" fill="url(#bN_m3)" transform="translate(1709.1 844.8) rotate(78.8)"/><rect x="0" y="-9" width="10.7" height="18" fill="url(#bC_m3)" transform="translate(1711.5 857.2) rotate(78.8)"/>
<rect x="0" y="-9" width="13.8" height="18" fill="url(#bC_m3)" transform="translate(1733.2 886.3) rotate(8.9)"/><rect x="0" y="-9" width="13.8" height="18" fill="url(#bC_m3)" transform="translate(1746.4 888.4) rotate(8.9)"/>
<rect x="0" y="-8.4" width="3.9" height="16.9" fill="url(#bC_p0)" transform="translate(1786.5 879.6) rotate(-52.2)"/><rect x="0" y="-8.4" width="10.5" height="16.9" fill="url(#bH_p0)" transform="translate(1788.6 876.9) rotate(-52.2)"/>
<rect x="0" y="-9" width="7.6" height="18" fill="url(#bC_m3)" transform="translate(1781.6 908.7) rotate(70.7)"/><rect x="0" y="-9" width="9.9" height="18" fill="url(#bO_m3)" transform="translate(1784 915.5) rotate(70.7)"/>
<rect x="0" y="-9" width="8.1" height="18" fill="url(#bC_p0)" transform="translate(1705.2 895.6) rotate(134.3)"/><rect x="0" y="-9" width="9.1" height="18" fill="url(#bN_p0)" transform="translate(1699.8 901.1) rotate(134.3)"/>
<rect x="0" y="-8.4" width="4.7" height="16.9" fill="url(#bN_m3)" transform="translate(1690 932.7) rotate(63.1)"/><rect x="0" y="-8.4" width="10.4" height="16.9" fill="url(#bH_m3)" transform="translate(1691.9 936.5) rotate(63.1)"/>
<rect x="5.5" y="-8.4" width="13.9" height="16.9" rx="3.7" ry="8.4" fill="url(#bCd_p0)" transform="translate(1653 813.5) rotate(143.9)"/><rect x="0" y="-8.4" width="15.7" height="16.9" fill="url(#bH_p0)" transform="translate(1640.7 822.5) rotate(143.9)"/>
<circle cx="1628.3" cy="831.5" r="13.9" fill="url(#gH)"/></g>
</g>
</svg></body></html>
